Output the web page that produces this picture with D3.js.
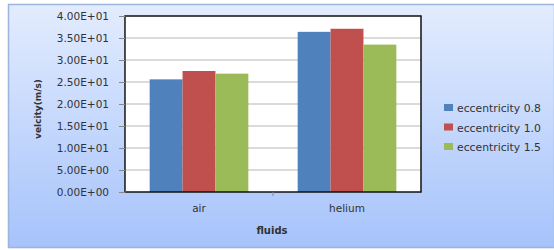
<!DOCTYPE html>
<html>
<head>
<meta charset="utf-8">
<script src="https://cdn.jsdelivr.net/npm/d3@7"></script>
<style>
  body { margin: 0; background: #fff; }
  text { font-family: "DejaVu Sans", Verdana, sans-serif; fill: #333; }
</style>
</head>
<body>
<div id="chart"></div>
<script>
const categories = ["air", "helium"];
const seriesNames = ["eccentricity 0.8", "eccentricity 1.0", "eccentricity 1.5"];
const seriesValues = [
  [25.6, 36.4],
  [27.5, 37.1],
  [26.9, 33.5]
];
const yTicks = [0, 5, 10, 15, 20, 25, 30, 35, 40];
const colors = ["#4f81bd", "#c0504d", "#9bbb59"];

const width = 554, height = 250;
const plot = { left: 125, top: 16, right: 421, bottom: 192 };

const svg = d3.select("#chart").append("svg")
    .attr("width", width)
    .attr("height", height);

const defs = svg.append("defs");
const grad = defs.append("linearGradient")
    .attr("id", "bg")
    .attr("x1", 0).attr("y1", 0).attr("x2", 0).attr("y2", 1);
grad.append("stop").attr("offset", "0%").attr("stop-color", "#e3ecfe");
grad.append("stop").attr("offset", "100%").attr("stop-color", "#a6c3fb");

// chart area
svg.append("rect")
    .attr("x", 8.5).attr("y", 4.5)
    .attr("width", width - 8).attr("height", 243)
    .attr("fill", "url(#bg)")
    .attr("stroke", "#9db5dc")
    .attr("stroke-width", 1.5);

const x0 = d3.scaleBand()
    .domain(categories)
    .range([plot.left, plot.right]);

const x1 = d3.scaleBand()
    .domain(d3.range(seriesNames.length))
    .range([0, x0.bandwidth()])
    .paddingOuter(0.75)
    .paddingInner(0);

const y = d3.scaleLinear()
    .domain([0, 40])
    .range([plot.bottom, plot.top]);

// plot area
svg.append("rect")
    .attr("x", plot.left).attr("y", plot.top)
    .attr("width", plot.right - plot.left)
    .attr("height", plot.bottom - plot.top)
    .attr("fill", "#fff");

// gridlines
svg.append("g")
    .selectAll("line")
    .data(yTicks.filter(d => d > 0 && d < 40))
    .join("line")
    .attr("x1", plot.left).attr("x2", plot.right)
    .attr("y1", d => y(d)).attr("y2", d => y(d))
    .attr("stroke", "#b8b8b8")
    .attr("stroke-width", 1.2);

// bars
const groups = svg.append("g")
    .selectAll("g")
    .data(seriesNames.map((name, i) => ({ name, i, values: seriesValues[i] })))
    .join("g")
    .attr("fill", d => colors[d.i]);

groups.selectAll("rect")
    .data(d => d.values.map((v, j) => ({ v, cat: categories[j], s: d.i })))
    .join("rect")
    .attr("x", d => x0(d.cat) + x1(d.s))
    .attr("y", d => y(d.v))
    .attr("width", x1.bandwidth())
    .attr("height", d => y(0) - y(d.v));

// plot border
svg.append("rect")
    .attr("x", plot.left).attr("y", plot.top)
    .attr("width", plot.right - plot.left)
    .attr("height", plot.bottom - plot.top)
    .attr("fill", "none")
    .attr("stroke", "#111")
    .attr("stroke-width", 1.5);

// y axis
const yAxis = svg.append("g")
    .attr("transform", `translate(${plot.left},0)`)
    .call(d3.axisLeft(y).tickValues(yTicks).tickSize(6).tickPadding(10)
        .tickFormat(d => d3.format(".2e")(d).toUpperCase().replace(/E([+-])(\d)$/, "E$10$2")));
yAxis.select(".domain").attr("stroke", "#555");
yAxis.selectAll(".tick line").attr("stroke", "#888");
yAxis.selectAll("text")
    .style("font-size", "10.5px")
    .attr("fill", "#404040");

// x axis
const xAxis = svg.append("g")
    .attr("transform", `translate(0,${plot.bottom})`)
    .call(d3.axisBottom(x0).tickSize(0).tickPadding(13));
xAxis.select(".domain").remove();
xAxis.selectAll("text")
    .style("font-size", "10.5px")
    .attr("fill", "#333");
svg.append("line")
    .attr("x1", x0("helium")).attr("x2", x0("helium"))
    .attr("y1", plot.bottom).attr("y2", plot.bottom + 4)
    .attr("stroke", "#888");

// axis titles
svg.append("text")
    .attr("transform", `translate(41,109) rotate(-90)`)
    .attr("text-anchor", "middle")
    .style("font-size", "9px")
    .style("font-weight", "bold")
    .text("velcity(m/s)");

svg.append("text")
    .attr("x", 272).attr("y", 234)
    .attr("text-anchor", "middle")
    .style("font-size", "10px")
    .style("font-weight", "bold")
    .text("fluids");

// legend
const legend = svg.append("g")
    .attr("transform", "translate(444,108)")
    .selectAll("g")
    .data(seriesNames)
    .join("g")
    .attr("transform", (d, i) => `translate(0,${i * 19.5})`);

legend.append("rect")
    .attr("x", 0).attr("y", -4)
    .attr("width", 9).attr("height", 7)
    .attr("fill", (d, i) => colors[i]);

legend.append("text")
    .attr("x", 13).attr("y", 4)
    .style("font-size", "10.8px")
    .attr("fill", "#222")
    .text(d => d);
</script>
</body>
</html>
